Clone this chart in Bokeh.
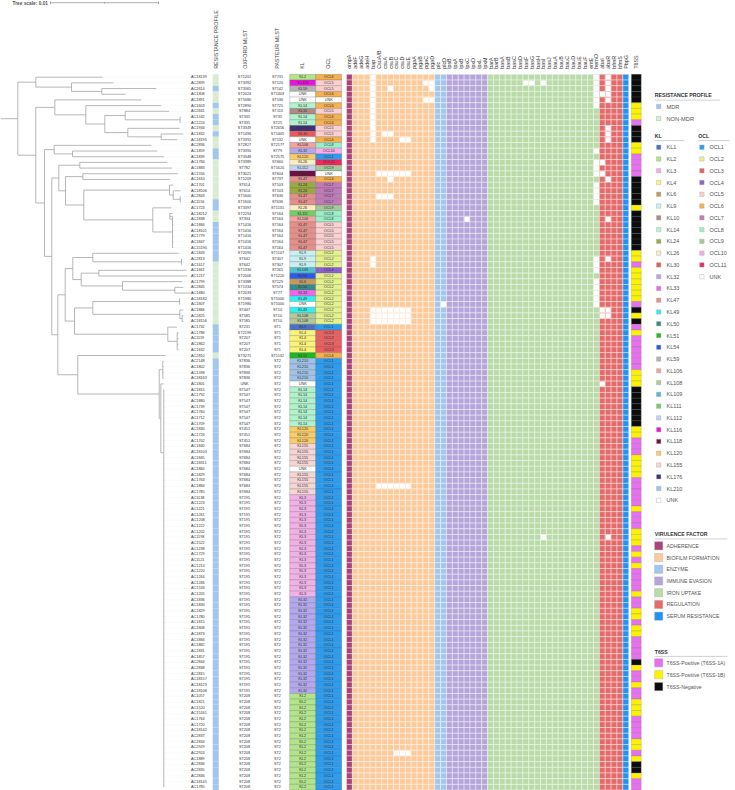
from bokeh.plotting import figure
from bokeh.models import Range1d
from bokeh.core.properties import value
from bokeh.embed import file_html
from bokeh.resources import INLINE
import math

ISOLATES = ["AC18139","AC2899","AC2614","AC1808","AC1891","AC1603","AC2841","AC1532","AC1224","AC1934","AC1832","AC18195","AC2836","AC1859","AC1839","AC1784","AC1883","AC1556","AC1610","AC1701","AC18106","AC2843","AC1156","AC1723","AC18212","AC1838","AC1866","AC18101","AC1779","AC1847","AC15190","AC1833","AC2813","AC1617","AC1661","AC1217","AC1799","AC2845","AC1680","AC18182","AC1807","AC1866","AC2825","AC18156","AC1732","AC1786","AC1119","AC1862","AC1632","AC2810","AC2148","AC1802","AC1598","AC18163","AC1801","AC1815","AC1792","AC1880","AC1739","AC1760","AC1712","AC1709","AC1830","AC1726","AC1702","AC1840","AC18103","AC1845","AC18311","AC1860","AC1829","AC1763","AC1884","AC1785","AC1138","AC1223","AC1221","AC1261","AC1208","AC1222","AC1202","AC1198","AC1522","AC1238","AC1729","AC1121","AC1213","AC1220","AC1264","AC1266","AC1533","AC1205","AC1836","AC1830","AC1829","AC1780","AC1815","AC1808","AC1873","AC1866","AC1882","AC1831","AC1857","AC2844","AC2838","AC2815","AC18157","AC18123","AC18108","AC1057","AC1821","AC1520","AC15161","AC1764","AC1720","AC18142","AC2837","AC2834","AC2929","AC2924","AC1889","AC2836","AC2835","AC2846","AC18145","AC1785"]
OXFORD = ["ST1201","ST3392","ST3365","ST2024","ST1680","ST2890","ST884","ST335","ST335","ST3349","ST1496","ST3391","ST2827","ST3390","ST3348","ST3389","ST782","ST3021","ST1209","ST614","ST614","ST1600","ST1600","ST3397","ST2294","ST334","ST1416","ST1416","ST1416","ST1416","ST1416","ST2090","ST642","ST642","ST1330","ST2006","ST3388","ST1334","ST2033","ST1980","ST1980","ST447","ST585","ST585","ST231","ST2199","ST207","ST207","ST207","ST3271","ST836","ST836","ST836","ST836","UNK"] + ["ST547"]*7 + ["ST451"]*3 + ["ST684"]*9 + ["ST195"]*35 + ["ST208"]*17
PASTEUR = ["ST731","ST120","ST142","ST1403","ST536","ST725","ST113","ST35","ST25","ST2656","ST1405","ST132","ST2177","ST79","ST2575","ST660","ST1620","ST604","ST737","ST103","ST103","ST636","ST636","ST1131","ST164","ST164","ST164","ST164","ST164","ST164","ST164","ST1147","ST307","ST307","ST265","ST1220","ST129","ST574","ST77","ST1000","ST1000","ST10","ST10","ST10","ST1","ST1","ST1","ST1","ST1","ST1132"] + ["ST2"]*76
KL = ["KL2","KL116","KL59","UNK","UNK","KL14","KL10","KL14","KL14","KL176","KL30","UNK","KL106","KL32","KL120","KL26","KL112","KL118","KL47","KL24","KL24","KL47","KL47","KL26","KL111","KL106","KL47","KL47","KL47","KL47","KL47","KL9","KL9","KL9","KL109","KL54","KL6","KL50","KL33","KL49","UNK","KL49","KL108","KL108","KL1","KL4","KL4","KL4","KL4","KL51","KL210","KL210","KL210","KL210","UNK"] + ["KL14"]*7 + ["KL120"]*3 + ["KL155"]*4 + ["UNK"] + ["KL155"]*4 + ["KL3"]*18 + ["KL32"]*17 + ["KL2"]*17
OCL = ["OCL6","OCL5","OCL5","OCL6","UNK","OCL6","OCL5","OCL6","OCL6","OCL5","OCL5","OCL6","OCL8","OCL10","OCL1","OCL11","OCL9","UNK","OCL6","OCL7","OCL7","OCL7","OCL7","OCL9","OCL8","OCL8","OCL5","OCL5","OCL5","OCL5","OCL5","OCL2","OCL2","OCL2","OCL4","OCL2","OCL2","OCL2","OCL2","OCL2","OCL2","OCL2","OCL2","OCL2","OCL1","OCL3","OCL3","OCL3","OCL3","OCL6"] + ["OCL1"]*76
MDR_BLOCKS = [("N",2),("M",1),("N",2),("M",1),("N",1),("M",2),("N",1),("M",1),("N",2),("M",2),("N",7),("M",2),("N",2),("M",7),("N",11),("M",5),("N",1),("M",76)]
T6SS_BLOCKS = [("B",5),("Y",3),("P",1),("B",3),("Y",2),("P",4),("B",5),("Y",1),("B",7),("Y",2),("P",1),("Y",6),("P",1),("B",1),("Y",1),("B",1),("P",1),("Y",1),("P",6),("Y",3),("B",7),("Y",2),("P",3),("Y",4),("P",5),("Y",1),("P",3),("Y",3),("P",1),("Y",1),("P",1),("Y",1),("P",4),("Y",1),("P",2),("Y",2),("P",1),("Y",2),("P",4),("B",1),("Y",1),("P",2),("Y",1),("P",2),("Y",3),("P",4),("Y",2),("P",1),("Y",1),("B",2),("Y",1),("P",2)]

GENE_GROUPS = [
    ("ADHERENCE", "#a84478", ["ompA"]),
    ("BIOFILM FORMATION", "#fdcb9b", ["adeF","adeG","adeH","bap","CsuA/B","csuA","csuB","csuC","csuD","csuE","pgaA","pgaB","pgaC","pgaD"]),
    ("ENZYME", "#a3c6ec", ["plc","plcD"]),
    ("IMMUNE EVASION", "#b5a5da", ["lpsB","lpxA","lpxB","lpxC","lpxD","lpxL","lpxM"]),
    ("IRON UPTAKE", "#b8dba8", ["barA","barB","basA","basB","basC","basD","basF","basG","basH","basI","basJ","bauA","bauB","bauC","bauD","bauE","bauF","entE","hemO"]),
    ("REGULATION", "#e56a6a", ["abaI","abaR","bfmR","bfmS"]),
    ("SERUM RESISTANCE", "#2293f3", ["PbpG"]),
]
ABSENT = {
    "bap":[0,1,2,3,4,5,6,7,8,9,10,11,32,33,41,42,43],
    "CsuA/B":[17,21,41,42,43,72],
    "csuA":[10,17,21,41,42,43,72],
    "csuB":[2,10,17,18,21,41,42,43,72],
    "csuC":[17,41,42,43,72,119],
    "csuD":[11,17,41,42,43,72,119],
    "csuE":[11,17,41,42,43,72,119],
    "pgaC":[1,4],
    "pgaD":[1,2,4],
    "plcD":[40],
    "lpxC":[25],
    "basF":[1],
    "basG":[1],
    "basI":[1,81],
    "hemO":[0,1,2,3,4,5,13,15,16,17,19,20,21,22,32,33,34,36,37,38,39,40],
    "abaI":[3,15,17,41,42,54],
    "abaR":[0,1,2,3,4,9,10,11,18,25,32,41,42,81],
}
KL_COLORS = {"KL1":"#4a6fc4","KL2":"#b0e58a","KL3":"#efb1e6","KL4":"#fbf27a","KL6":"#c49a5c","KL9":"#c8f0f0","KL10":"#ab8a88","KL14":"#b0f2cc","KL24":"#99a944","KL26":"#f9edc2","KL30":"#e85a58","KL32":"#b3a8ee","KL33":"#ee66ee","KL47":"#e58f8b","KL49":"#33eeee","KL50":"#3a8a8a","KL51":"#1eb81e","KL54":"#2b5ae8","KL59":"#b3b3b3","KL106":"#f4a3a3","KL108":"#b2c99a","KL109":"#4fbfcf","KL111":"#77cc66","KL112":"#c5d0f0","KL116":"#ee11dd","KL118":"#6e1040","KL120":"#f8cc66","KL155":"#f6d5d5","KL176":"#40307a","KL210":"#9fc3e8","UNK":"#ffffff"}
OCL_COLORS = {"OCL1":"#2b9df0","OCL2":"#e4f28c","OCL3":"#e86060","OCL4":"#8d5fd3","OCL5":"#fbd0d0","OCL6":"#f5b04f","OCL7":"#c07ab8","OCL8":"#99efc8","OCL9":"#a5c79a","OCL10":"#f8aee8","OCL11":"#ee2860","UNK":"#ffffff"}
RES_COLORS = {"M":"#a3c6ec","N":"#d8ecd2"}
T6SS_COLORS = {"P":"#e86ff0","Y":"#fff200","B":"#0c0c0c"}
T6SS_LEGEND = [("T6SS-Positive (T6SS-1A)","P"),("T6SS-Positive (T6SS-1B)","Y"),("T6SS-Negative","B")]
COMB_TIPS = [163.4,163.4,163.6,163.6,163.4,163.4,163.5,163.5,163.4,163.6,163.6,163.4,163.4,163.5,163.4,163.4,163.6,163.4,163.4,163.5,163.4,163.4,163.4,163.5,163.4,163.4,163.4,163.5,163.4,163.4,163.5,163.4,163.4,163.4,163.5,163.4,163.4,163.5,163.4,163.4,163.6,163.6,163.4,163.4,163.5,163.4,163.4,163.4,163.5,163.4,163.4,163.5,163.4,163.4,163.4,163.5,163.4,163.4,163.5,163.4,163.4,163.4,163.5,163.4,163.4,163.5,163.4,163.4,163.4,163.5,163.4]

def N(x, *kids, stem=None):
    return {"x": x, "kids": kids, "stem": stem}

# Tree depths at 108 units per 0.01 substitutions/site
TREE = N(17.3,
  N(35.3, 102.0, N(71.0, 113.0, N(101.3, 155.7, 125.0))),
  N(35.3,
    N(54.3, 140.7, N(85.3, 160.7, N(104.3,
        N(124.7, 168.7, N(179.6, 180.0, 180.0)),
        N(127.3, 179.0, N(160.7, 182.7, 176.7))))),
    N(44.0,
      N(53.7, 150.7, N(72.0, 156.7, 163.7)),
      N(51.3,
        N(58.3,
          N(79.3, 166.7, 171.7),
          N(65.0,
            N(82.3, 177.3, 169.3),
            N(83.3,
              N(169.0, 172.7, N(172.7, 180.0, N(179.7, 180.0, 180.0))),
              N(152.3, 170.8, N(172.0, N(169.3, 172.0, 172.0), 172.8, 172.8, 172.8, 172.8, 172.8))))),
        N(57.3,
          N(64.7,
            N(72.3,
              N(92.3, 178.3, N(181.0, 181.3, 181.3)),
              N(80.7, N(98.3, 186.0, 186.7), N(122.0, 181.7, N(174.3, 182.7, 190.0)))),
            N(74.0,
              N(92.3, N(179.0, 179.3, 179.3), N(179.3, 183.0, N(181.7, 183.0, 183.0))),
              N(167.3, 176.7, N(176.7, 178.0, 178.0, 178.0, 178.0)))),
          N(77.3, 165.0,
            N(158.7,
              N(162.3, 163.0, 163.0, 163.0, 163.0),
              N(160.3, 163.0, N(163.3, *COMB_TIPS, stem=66.1)))))))))

TREE_SCALE_LABEL = "Tree scale: 0.01"
TREE_SCALE_LEN = 0.01
PX_PER_UNIT = 108 / 0.01

FONT = value("Liberation Sans")
ROW0, ROWH = 76.7, 5.68
COL0, COLW = 346.0, 5.88
LABEL_END = 188.5
n = len(ISOLATES)

def row_y(r):
    return ROW0 + ROWH * r

def expand(blocks):
    out = []
    for k, c in blocks:
        out += [k] * c
    return out

p = figure(width=735, height=790, x_range=Range1d(0, 735), y_range=Range1d(790, 0),
           output_backend="svg", toolbar_location=None, min_border=0)
p.axis.visible = False
p.grid.visible = False
p.outline_line_color = None
p.background_fill_color = "white"

# --- tree ---
xs, ys, lead_x, lead_y = [], [], [], []
counter = [0]
def walk(node, parent_x):
    if not isinstance(node, dict):
        r = counter[0]; counter[0] += 1
        y = row_y(r)
        xs.append([parent_x, node]); ys.append([y, y])
        lead_x.append([node, LABEL_END]); lead_y.append([y, y])
        return y
    kid_y = [walk(k, node["x"]) for k in node["kids"]]
    xs.append([node["x"], node["x"]]); ys.append([min(kid_y), max(kid_y)])
    y = row_y(node["stem"]) if node["stem"] is not None else (kid_y[0] + kid_y[-1]) / 2
    xs.append([parent_x, node["x"]]); ys.append([y, y])
    return y
walk(TREE, 0)
p.multi_line(lead_x, lead_y, line_color="#e2e2e2", line_width=0.3, line_dash="1 1")
p.multi_line(xs, ys, line_color="#a4a4a4", line_width=0.8)

# tree scale
bar_x0 = 50.0
bar_x1 = bar_x0 + TREE_SCALE_LEN * PX_PER_UNIT
p.multi_line([[bar_x0, bar_x1], [bar_x0, bar_x0], [(bar_x0 + bar_x1) / 2] * 2, [bar_x1, bar_x1]],
             [[2.2, 2.2], [0.9, 3.5], [1.5, 2.9], [0.9, 3.5]], line_color="#777777", line_width=0.6)
p.text([12], [2.9], text=[TREE_SCALE_LABEL], text_font=FONT, text_font_size="4.8px", text_font_style="bold",
       text_color="#555555", text_align="left", text_baseline="middle")

# --- strips ---
ys_rows = [row_y(r) for r in range(n)]
res = expand(MDR_BLOCKS)
p.rect([215.2] * n, ys_rows, 6.0, ROWH, fill_color=[RES_COLORS[k] for k in res], line_color=None)
p.rect([302.2] * n, ys_rows, 26, ROWH, fill_color=[KL_COLORS[k] for k in KL],
       line_color="#555555", line_alpha=0.45, line_width=0.5)
p.rect([328.2] * n, ys_rows, 26, ROWH, fill_color=[OCL_COLORS[k] for k in OCL],
       line_color="#555555", line_alpha=0.45, line_width=0.5)
t6 = expand(T6SS_BLOCKS)
p.rect([635.8] * n, ys_rows, 9.8, ROWH, fill_color=[T6SS_COLORS[k] for k in t6],
       line_color="#666666", line_alpha=0.45, line_width=0.5)

# --- label columns ---
def col_text(x, texts, align="center", size="3.8px"):
    p.text([x] * n, ys_rows, text=texts, text_font=FONT, text_font_size=size, text_color="#333333",
           text_align=align, text_baseline="middle")
col_text(190.5, ISOLATES, "left")
col_text(244, OXFORD)
col_text(277, PASTEUR)
col_text(302.2, KL)
col_text(328.2, OCL)

# --- virulence heat map ---
cx, cy, cc, gene_x, gene_names, ax, ay = [], [], [], [], [], [], []
i = 0
for grp, col, genes in GENE_GROUPS:
    for g in genes:
        x = COL0 + COLW * (i + 0.5)
        gene_x.append(x); gene_names.append(g)
        missing = set(ABSENT.get(g, []))
        for r in range(n):
            cx.append(x); cy.append(row_y(r)); cc.append(col)
            if r in missing:
                ax.append(x); ay.append(row_y(r))
        i += 1
p.rect(cx, cy, COLW, ROWH, fill_color=cc, line_color="#ffffff", line_alpha=0.72, line_width=0.55)
p.rect(ax, ay, COLW - 0.7, ROWH - 0.7, fill_color="#ffffff", line_color=None)

# --- headers ---
HEAD_Y = 68.3
p.text(gene_x, [HEAD_Y] * len(gene_x), text=gene_names, angle=math.pi / 2, text_font=FONT,
       text_font_size="5.4px", text_color="#333333", text_align="left", text_baseline="middle")
HEADERS = [("RESISTANCE PROFILE", 215.3), ("OXFORD MLST", 244), ("PASTEUR MLST", 276.7),
           ("KL", 301.7), ("OCL", 327.7), ("T6SS", 635.5)]
p.text([h[1] for h in HEADERS], [HEAD_Y] * len(HEADERS), text=[h[0] for h in HEADERS], angle=math.pi / 2,
       text_font=FONT, text_font_size="5.4px", text_color="#444444", text_align="left", text_baseline="middle")

# --- legends ---
LEG_PITCH = 11.77
def title(x, y, t, x1):
    p.text([x], [y], text=[t], text_font=FONT, text_font_size="5.2px", text_font_style="bold",
           text_color="#333333", text_align="left", text_baseline="middle")
    p.line([x, x1], [y + 4.9, y + 4.9], line_color="#bdbdbd", line_width=0.7)
def entries(names, colors, x_sw, x_txt, y0, w, pitch=LEG_PITCH, size="5.5px"):
    ys_ = [y0 + pitch * k for k in range(len(names))]
    p.rect([x_sw] * len(names), ys_, w, w, fill_color=colors, line_color="#aaaaaa", line_width=0.4)
    p.text([x_txt] * len(names), ys_, text=names, text_font=FONT, text_font_size=size,
           text_color="#555555", text_align="left", text_baseline="middle")

title(654.3, 94.7, "RESISTANCE PROFILE", 719.7)
entries(["MDR", "NON-MDR"], [RES_COLORS["M"], RES_COLORS["N"]], 658.2, 666, 106, 4.4, 12, "5.7px")
title(654.3, 135.2, "KL", 684)
title(697.7, 135.2, "OCL", 729)
kl_names = list(KL_COLORS)
entries(kl_names, [KL_COLORS[k] for k in kl_names], 658.2, 666, 146.7, 4.4)
ocl_names = list(OCL_COLORS)
entries(ocl_names, [OCL_COLORS[k] for k in ocl_names], 701.4, 709, 146.7, 4.4)
title(654.3, 533.5, "VIRULENCE FACTOR", 727)
entries([g[0] for g in GENE_GROUPS], [g[1] for g in GENE_GROUPS], 658.2, 666, 545.3, 8.2, 11.73, "5.2px")
title(654.3, 651.0, "T6SS", 727)
entries([t[0] for t in T6SS_LEGEND], [T6SS_COLORS[t[1]] for t in T6SS_LEGEND], 658.2, 666, 662.3, 8.2, 11.9, "5.2px")

open("out.html", "w").write(file_html(p, INLINE))
